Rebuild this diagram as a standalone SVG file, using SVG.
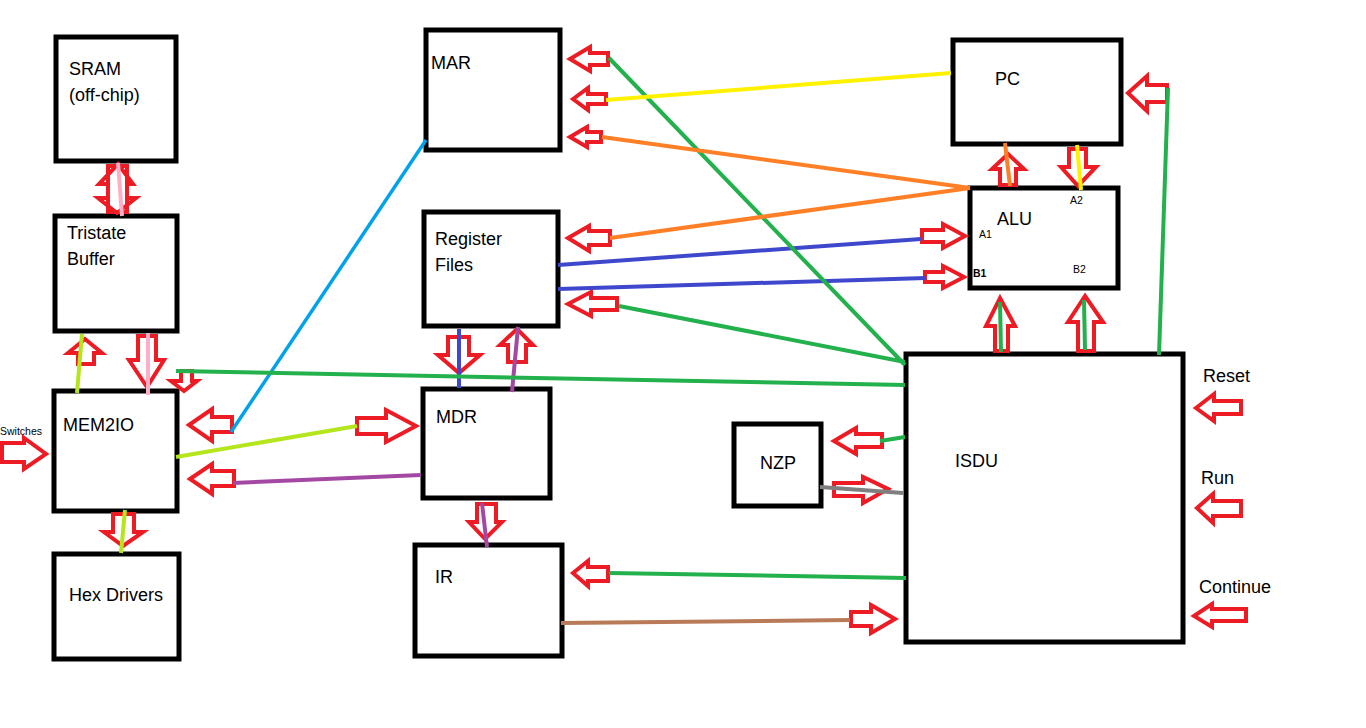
<svg xmlns="http://www.w3.org/2000/svg" width="1366" height="728" viewBox="0 0 1366 728">
<style>
.box{fill:#fff;stroke:#000;stroke-width:5}
.t{font-family:"Liberation Sans",Arial,sans-serif;font-size:18px;fill:#000}
.s{font-family:"Liberation Sans",Arial,sans-serif;font-size:10.5px;fill:#000}
.ba{fill:none;stroke:#ed1c24;stroke-width:4;stroke-linejoin:miter}
.ln{fill:none;stroke-width:4;stroke-linecap:butt}
.g{stroke:#22b14c}.y{stroke:#fff200}.o{stroke:#ff7f27}.b{stroke:#3f48cc}.lb{stroke:#00a2e8;stroke-width:3.5}
.p{stroke:#a349a4}.pk{stroke:#ffaec9}.yg{stroke:#b5e61d}.br{stroke:#b97a57}.gr{stroke:#7f7f7f}
</style>
<rect width="1366" height="728" fill="#fff"/>
<g id="sram"><rect class="box" x="56" y="37" width="120" height="124"/><text class="t" x="69" y="75">SRAM</text><text class="t" x="69" y="101">(off-chip)</text></g>
<g id="tristate"><rect class="box" x="55" y="216" width="122" height="115"/><text class="t" x="67" y="239">Tristate</text><text class="t" x="67" y="265">Buffer</text></g>
<g id="mem2io"><rect class="box" x="54" y="391" width="123" height="120"/><text class="t" x="63" y="431">MEM2IO</text></g>
<g id="hex"><rect class="box" x="54" y="554" width="125" height="105"/><text class="t" x="69" y="601">Hex Drivers</text></g>
<g id="mar"><rect class="box" x="426" y="30" width="134" height="120"/><text class="t" x="431" y="69">MAR</text></g>
<g id="regfile"><rect class="box" x="424" y="212" width="134" height="114"/><text class="t" x="435" y="245">Register</text><text class="t" x="435" y="271">Files</text></g>
<g id="mdr"><rect class="box" x="423" y="389" width="127" height="109"/><text class="t" x="436" y="423">MDR</text></g>
<g id="ir"><rect class="box" x="415" y="545" width="147" height="111"/><text class="t" x="435" y="583">IR</text></g>
<g id="pc"><rect class="box" x="953" y="40" width="168" height="104"/><text class="t" x="995" y="85">PC</text></g>
<g id="alu"><rect class="box" x="970" y="188" width="148" height="100"/><text class="t" x="997" y="225">ALU</text>
<text class="s" x="979" y="238">A1</text><text class="s" x="973" y="277" font-weight="bold">B1</text><text class="s" x="1070" y="204">A2</text><text class="s" x="1073" y="273">B2</text></g>
<g id="isdu"><rect class="box" x="906" y="354" width="277" height="288"/><text class="t" x="955" y="467">ISDU</text></g>
<g id="nzp"><rect class="box" x="734" y="424" width="87" height="82"/><text class="t" x="760" y="469">NZP</text></g>
<g id="inputs"><text class="s" x="0" y="435" font-size="11.5">Switches</text><text class="t" x="1203" y="382">Reset</text><text class="t" x="1201" y="484">Run</text><text class="t" x="1199" y="593">Continue</text></g>
<g id="connectors">
<path class="ba" d="M118,164 L133,184 L127,184 L127,212 L108,212 L108,184 L99,184 Z"/>
<path class="ba" d="M108,166 L127,166 L127,198 L136,198 L117,213 L98,198 L108,198 Z"/>
<path class="ba" d="M85,339 L102,353 L94,353 L94,364 L78,364 L78,353 L68,353 Z"/>
<path class="ba" d="M138,336 L156,336 L156,360 L164,360 L147,387 L129,360 L138,360 Z"/>
<path class="ba" d="M181,371 L192,371 L192,381 L197,381 L184,391 L171,381 L181,381 Z"/>
<path class="ba" d="M113,514 L134,514 L134,532 L143,532 L123,546 L104,532 L113,532 Z"/>
<path class="ba" d="M2,443 L24,443 L24,438 L46,454 L24,469 L24,462 L2,462 Z"/>
<path class="ba" d="M189,425 L212,409 L212,417 L232,417 L232,432 L212,432 L212,441 Z"/>
<path class="ba" d="M190,479 L212,464 L212,471 L234,471 L234,486 L212,486 L212,494 Z"/>
<path class="ba" d="M357,418 L386,418 L386,410 L416,426 L386,442 L386,434 L357,434 Z"/>
<path class="ba" d="M570,59 L590,47 L590,53 L608,53 L608,65 L590,65 L590,71 Z"/>
<path class="ba" d="M573,99 L588,88 L588,94 L606,94 L606,104 L588,104 L588,110 Z"/>
<path class="ba" d="M570,137 L587,127 L587,132 L601,132 L601,142 L587,142 L587,147 Z"/>
<path class="ba" d="M568,238 L589,226 L589,231 L610,231 L610,245 L589,245 L589,251 Z"/>
<path class="ba" d="M568,304 L591,292 L591,298 L617,298 L617,310 L591,310 L591,316 Z"/>
<path class="ba" d="M922,230 L943,230 L943,224 L965,236 L943,248 L943,242 L922,242 Z"/>
<path class="ba" d="M925,272 L943,272 L943,266 L964,277 L943,288 L943,282 L925,282 Z"/>
<path class="ba" d="M1128,93 L1147,76 L1147,85 L1167,85 L1167,102 L1147,102 L1147,111 Z"/>
<path class="ba" d="M1008,154 L1024,169 L1016,169 L1016,185 L1000,185 L1000,169 L992,169 Z"/>
<path class="ba" d="M1069,149 L1086,149 L1086,167 L1096,167 L1078,186 L1061,167 L1069,167 Z"/>
<path class="ba" d="M1000,298 L1015,326 L1008,326 L1008,351 L995,351 L995,326 L986,326 Z"/>
<path class="ba" d="M1085,296 L1103,322 L1094,322 L1094,351 L1078,351 L1078,322 L1068,322 Z"/>
<path class="ba" d="M448,337 L469,337 L469,355 L480,355 L459,373 L438,355 L448,355 Z"/>
<path class="ba" d="M517,329 L533,345 L526,345 L526,362 L508,362 L508,345 L500,345 Z"/>
<path class="ba" d="M477,504 L496,504 L496,522 L502,522 L485,539 L469,522 L477,522 Z"/>
<path class="ba" d="M573,573 L588,561 L588,567 L608,567 L608,581 L588,581 L588,586 Z"/>
<path class="ba" d="M851,612 L871,612 L871,605 L895,619 L871,633 L871,626 L851,626 Z"/>
<path class="ba" d="M834,441 L856,428 L856,434 L882,434 L882,447 L856,447 L856,454 Z"/>
<path class="ba" d="M834,483 L863,483 L863,477 L888,489 L863,503 L863,496 L834,496 Z"/>
<path class="ba" d="M1196,408 L1214,394 L1214,401 L1241,401 L1241,414 L1214,414 L1214,421 Z"/>
<path class="ba" d="M1197,508 L1213,494 L1213,501 L1241,501 L1241,516 L1213,516 L1213,523 Z"/>
<path class="ba" d="M1194,616 L1212,604 L1212,609 L1246,609 L1246,621 L1212,621 L1212,627 Z"/>
<line class="ln pk" x1="118" y1="163" x2="122" y2="216"/>
<line class="ln pk" x1="148" y1="333" x2="148" y2="395"/>
<line class="ln yg" x1="82" y1="334" x2="77" y2="393"/>
<line class="ln yg" x1="176" y1="457" x2="357" y2="426"/>
<line class="ln yg" x1="125" y1="510" x2="121" y2="553"/>
<line class="ln lb" x1="231" y1="432" x2="426" y2="140"/>
<line class="ln p" x1="233" y1="483" x2="421" y2="475"/>
<line class="ln p" x1="518" y1="327" x2="512" y2="392"/>
<line class="ln p" x1="482" y1="503" x2="487" y2="547"/>
<line class="ln b" x1="459" y1="329" x2="459" y2="388"/>
<line class="ln b" x1="558" y1="265" x2="921" y2="239"/>
<line class="ln b" x1="558" y1="289" x2="926" y2="278"/>
<line class="ln g" x1="176" y1="371" x2="905" y2="385"/>
<line class="ln g" x1="609" y1="58" x2="905" y2="365"/>
<line class="ln g" x1="619" y1="306" x2="905" y2="362"/>
<line class="ln g" x1="1168" y1="88" x2="1159" y2="355"/>
<line class="ln g" x1="1000" y1="302" x2="1001" y2="352"/>
<line class="ln g" x1="1084" y1="300" x2="1085" y2="350"/>
<line class="ln g" x1="880" y1="441" x2="905" y2="437"/>
<line class="ln g" x1="609" y1="573" x2="906" y2="578"/>
<line class="ln y" x1="606" y1="100" x2="951" y2="73"/>
<line class="ln y" x1="1077" y1="145" x2="1081" y2="190"/>
<line class="ln o" x1="602" y1="137" x2="970" y2="188"/>
<line class="ln o" x1="610" y1="238" x2="970" y2="188"/>
<line class="ln o" x1="1005" y1="143" x2="1010" y2="186"/>
<line class="ln br" x1="561" y1="623" x2="850" y2="620"/>
<line class="ln gr" x1="820" y1="487" x2="903" y2="493"/>
</g>
</svg>
